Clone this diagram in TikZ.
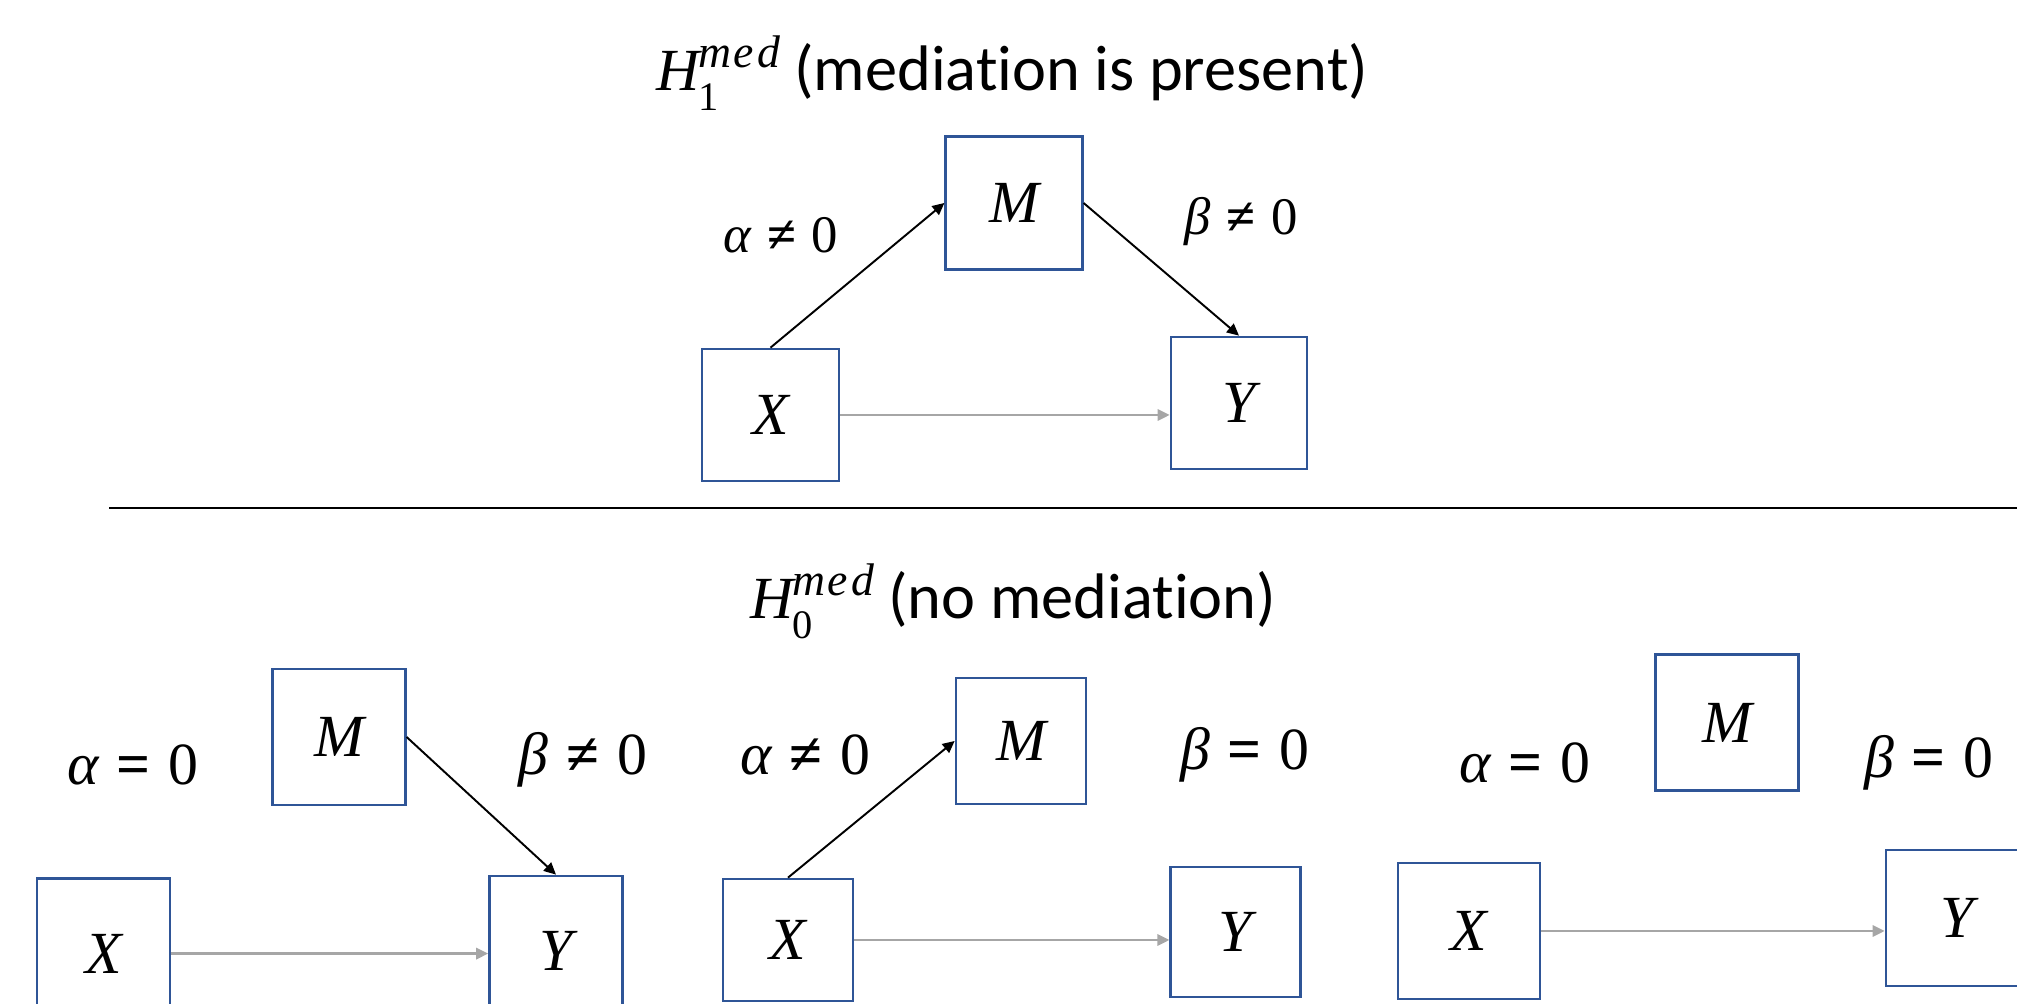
\documentclass[tikz,border=0pt]{standalone}
\usepackage{fontspec}
\setmainfont{Carlito}[Ligatures=CommonOff]
\newfontfamily\tms{Liberation Serif}
\usetikzlibrary{arrows.meta}
\definecolor{boxblue}{HTML}{2F5597}
\definecolor{grayarrow}{HTML}{A6A6A6}
\newcommand\hypo[1]{{\tms\itshape\fontsize{17}{20}\selectfont H}%
  \kern-0.5pt\rlap{\raisebox{-5.6pt}{\tms\fontsize{11.5}{13}\selectfont #1}}%
  \raisebox{6.6pt}{\tms\itshape\fontsize{13}{15}\selectfont m\kern0.8pt e\kern0.8pt d}}
\newcommand\opsym[1]{{\bfseries #1}}
\begin{document}
\begin{tikzpicture}[x=0.01cm,y=-0.01cm,
  var/.style={draw=boxblue, line width=0.75pt, inner sep=0pt,
    font=\fontsize{17}{20}\selectfont\tms\itshape},
  lbltop/.style={anchor=base, inner sep=0pt, font=\fontsize{15}{18}\selectfont\tms},
  lblbot/.style={anchor=base, inner sep=0pt, font=\fontsize{17}{20}\selectfont\tms},
  ttl/.style={anchor=base west, inner sep=0pt, font=\fontsize{18.3}{22}\selectfont},
  blk/.style={draw=black, line width=0.55pt, -{Triangle[length=3.4pt,width=3.2pt]}},
  direct/.style={draw=grayarrow, line width=0.7pt, -{Triangle[length=3.4pt,width=3.2pt]}}]
\useasboundingbox (0,0) rectangle (2017,1004);
\clip (0,0) rectangle (2017,1004);

% ---------- top: mediation present ----------
\node[ttl] (t1) at (656,91) {\hypo{1} (mediation is present)};
\node[var, minimum width=1.365cm, minimum height=1.33cm] (M1) at (1014,203) {M};
\node[var, minimum width=1.37cm, minimum height=1.32cm] (X1) at (770.5,415) {X};
\node[var, minimum width=1.36cm, minimum height=1.32cm] (Y1) at (1239,403) {Y};
\node[lbltop] (a1) at (781,253) {{\itshape α}\hspace{0.3em}\opsym{≠}\hspace{0.3em}0};
\node[lbltop] (b1) at (1241,235) {{\itshape β}\hspace{0.3em}\opsym{≠}\hspace{0.3em}0};
\draw[blk] (X1.north) -- (M1.west);
\draw[blk] (M1.east) -- (Y1.north);
\draw[direct] (X1.east) -- (X1.east -| Y1.west);

% separator
\coordinate (sepL) at (109,508);
\coordinate (sepR) at (2017,508);
\draw[line width=0.5pt] (sepL) -- (sepR);

% ---------- bottom: no mediation ----------
\node[ttl] (t0) at (750,619) {\hypo{0} (no mediation)};

% panel 1
\node[var, minimum width=1.325cm, minimum height=1.36cm] (M2) at (339,737) {M};
\node[var, minimum width=1.33cm, minimum height=1.5cm] (X2) at (103.5,953.6) {X};
\node[var, minimum width=1.33cm, minimum height=1.5cm] (Y2) at (556,951) {Y};
\node[lblbot] (a2) at (133,785) {{\itshape α}\hspace{0.3em}\opsym{=}\hspace{0.3em}0};
\node[lblbot] (b2) at (583,775) {{\itshape β}\hspace{0.3em}\opsym{≠}\hspace{0.3em}0};
\draw[blk] (M2.east) -- (Y2.north);
\draw[direct] (X2.east) -- (X2.east -| Y2.west);

% panel 2
\node[var, minimum width=1.30cm, minimum height=1.26cm] (M3) at (1021,741) {M};
\node[var, minimum width=1.30cm, minimum height=1.22cm] (X3) at (788,940) {X};
\node[var, minimum width=1.295cm, minimum height=1.30cm] (Y3) at (1235.5,932) {Y};
\node[lblbot] (a3) at (805,775) {{\itshape α}\hspace{0.3em}\opsym{≠}\hspace{0.3em}0};
\node[lblbot] (b3) at (1245,770) {{\itshape β}\hspace{0.3em}\opsym{=}\hspace{0.3em}0};
\draw[blk] (X3.north) -- (M3.west);
\draw[direct] (X3.east) -- (X3.east -| Y3.west);

% panel 3
\node[var, minimum width=1.43cm, minimum height=1.36cm] (M4) at (1727,722.5) {M};
\node[var, minimum width=1.42cm, minimum height=1.36cm] (X4) at (1469,931) {X};
\node[var, minimum width=1.42cm, minimum height=1.36cm] (Y4) at (1957,918) {Y};
\node[lblbot] (a4) at (1525,783) {{\itshape α}\hspace{0.3em}\opsym{=}\hspace{0.3em}0};
\node[lblbot] (b4) at (1929,778) {{\itshape β}\hspace{0.3em}\opsym{=}\hspace{0.3em}0};
\draw[direct] (X4.east) -- (X4.east -| Y4.west);
\end{tikzpicture}
\end{document}
